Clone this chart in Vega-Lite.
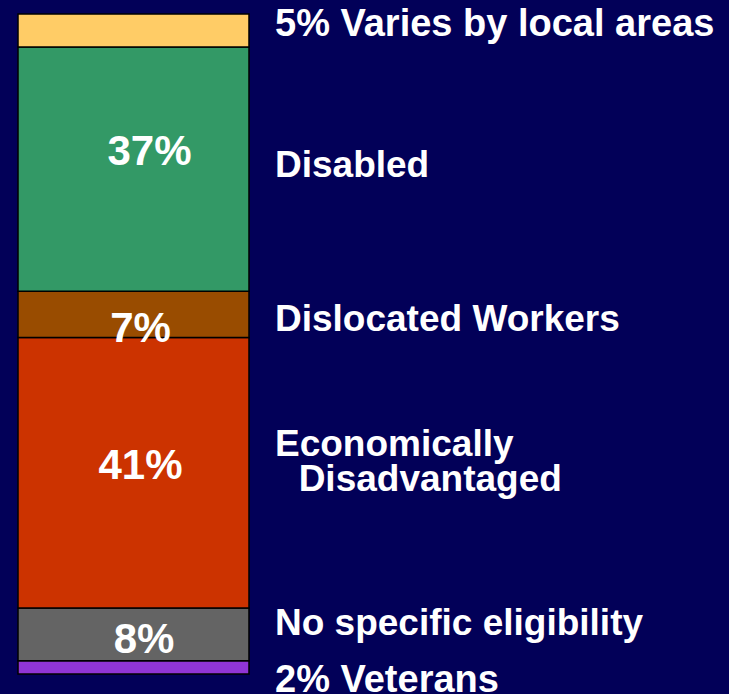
{
  "$schema": "https://vega.github.io/schema/vega-lite/v6.json",
  "width": 729,
  "height": 694,
  "autosize": {"type": "none"},
  "padding": 0,
  "background": "#020058",
  "config": {
    "view": {"stroke": null},
    "text": {"font": "Liberation Sans", "fontWeight": "bold", "color": "white", "baseline": "alphabetic"}
  },
  "data": {
    "values": [
      {"cat": "Veterans", "value": 2, "ord": 1, "inner": "", "side": "2% Veterans"},
      {"cat": "No specific eligibility", "value": 8, "ord": 2, "inner": "8%", "side": "No specific eligibility"},
      {"cat": "Economically Disadvantaged", "value": 41, "ord": 3, "inner": "41%", "side": "Economically\n\u200b\u00a0\u00a0\u200aDisadvantaged"},
      {"cat": "Dislocated Workers", "value": 7, "ord": 4, "inner": "7%", "side": "Dislocated Workers"},
      {"cat": "Disabled", "value": 37, "ord": 5, "inner": "37%", "side": "Disabled"},
      {"cat": "Varies by local areas", "value": 5, "ord": 6, "inner": "", "side": "5% Varies by local areas"}
    ]
  },
  "transform": [
    {"stack": "value", "groupby": [], "sort": [{"field": "ord", "order": "ascending"}], "as": ["v0", "v1"]}
  ],
  "layer": [
    {
      "mark": {"type": "bar", "stroke": "black", "strokeWidth": 1.5},
      "encoding": {
        "x": {"datum": "bar", "type": "nominal", "scale": {"domain": ["bar", "label"], "range": [18, 506], "paddingInner": 0.1012, "paddingOuter": 0}, "axis": null},
        "y": {"field": "v0", "type": "quantitative", "scale": {"domain": [-3.03, 102.12], "nice": false, "zero": false}, "axis": null},
        "y2": {"field": "v1"},
        "color": {
          "field": "cat", "type": "nominal", "legend": null,
          "scale": {
            "domain": ["Veterans", "No specific eligibility", "Economically Disadvantaged", "Dislocated Workers", "Disabled", "Varies by local areas"],
            "range": ["#9035D5", "#646464", "#CC3300", "#994C00", "#339966", "#FFCC66"]
          }
        }
      }
    },
    {
      "transform": [{"filter": "datum.cat === 'Disabled'"}],
      "mark": {"type": "text", "fontSize": 42, "align": "center", "dx": 16, "dy": 118},
      "encoding": {"x": {"datum": "bar", "type": "nominal"}, "y": {"field": "v1", "type": "quantitative"}, "text": {"field": "inner"}}
    },
    {
      "transform": [{"filter": "datum.cat === 'Economically Disadvantaged'"}],
      "mark": {"type": "text", "fontSize": 42, "align": "center", "dx": 7, "dy": 141.6},
      "encoding": {"x": {"datum": "bar", "type": "nominal"}, "y": {"field": "v1", "type": "quantitative"}, "text": {"field": "inner"}}
    },
    {
      "transform": [{"filter": "datum.cat === 'Dislocated Workers'"}],
      "mark": {"type": "text", "fontSize": 42, "align": "center", "dx": 7, "dy": 50.8},
      "encoding": {"x": {"datum": "bar", "type": "nominal"}, "y": {"field": "v1", "type": "quantitative"}, "text": {"field": "inner"}}
    },
    {
      "transform": [{"filter": "datum.cat === 'No specific eligibility'"}],
      "mark": {"type": "text", "fontSize": 42, "align": "center", "dx": 10.5, "dy": 45},
      "encoding": {"x": {"datum": "bar", "type": "nominal"}, "y": {"field": "v1", "type": "quantitative"}, "text": {"field": "inner"}}
    },
    {
      "transform": [{"filter": "datum.cat === 'Varies by local areas'"}],
      "mark": {"type": "text", "fontSize": 38, "align": "left", "dy": 22},
      "encoding": {"x": {"datum": "label", "type": "nominal", "bandPosition": 0}, "y": {"field": "v1", "type": "quantitative"}, "text": {"field": "side"}}
    },
    {
      "transform": [{"filter": "datum.cat === 'Disabled'"}],
      "mark": {"type": "text", "fontSize": 37, "align": "left", "dy": 130},
      "encoding": {"x": {"datum": "label", "type": "nominal", "bandPosition": 0}, "y": {"field": "v1", "type": "quantitative"}, "text": {"field": "side"}}
    },
    {
      "transform": [{"filter": "datum.cat === 'Dislocated Workers'"}],
      "mark": {"type": "text", "fontSize": 37, "align": "left", "dy": 39.8},
      "encoding": {"x": {"datum": "label", "type": "nominal", "bandPosition": 0}, "y": {"field": "v1", "type": "quantitative"}, "text": {"field": "side"}}
    },
    {
      "transform": [{"filter": "datum.cat === 'Economically Disadvantaged'"}],
      "mark": {"type": "text", "fontSize": 37, "align": "left", "dy": 118.6, "lineBreak": "\n", "lineHeight": 35},
      "encoding": {"x": {"datum": "label", "type": "nominal", "bandPosition": 0}, "y": {"field": "v1", "type": "quantitative"}, "text": {"field": "side"}}
    },
    {
      "transform": [{"filter": "datum.cat === 'No specific eligibility'"}],
      "mark": {"type": "text", "fontSize": 37, "align": "left", "dy": 27},
      "encoding": {"x": {"datum": "label", "type": "nominal", "bandPosition": 0}, "y": {"field": "v1", "type": "quantitative"}, "text": {"field": "side"}}
    },
    {
      "transform": [{"filter": "datum.cat === 'Veterans'"}],
      "mark": {"type": "text", "fontSize": 38, "align": "left", "dy": 31},
      "encoding": {"x": {"datum": "label", "type": "nominal", "bandPosition": 0}, "y": {"field": "v1", "type": "quantitative"}, "text": {"field": "side"}}
    }
  ]
}
